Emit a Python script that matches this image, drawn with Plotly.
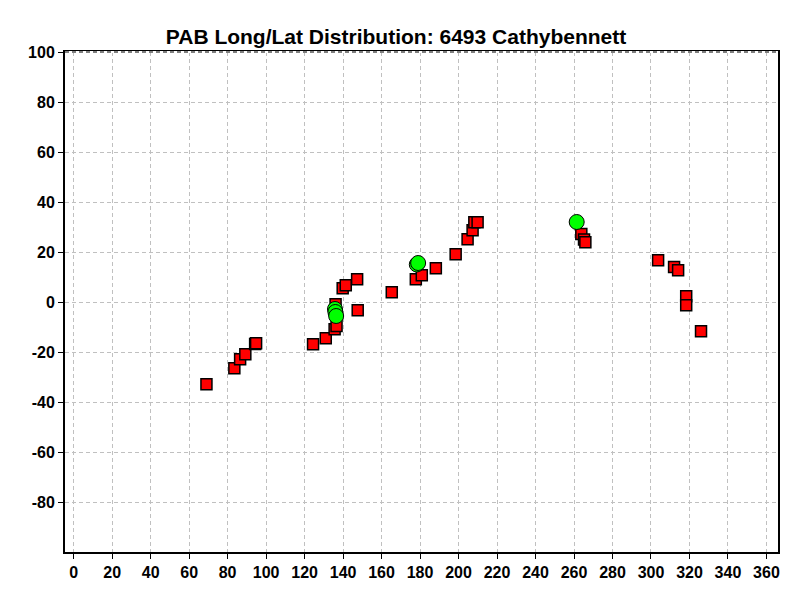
import plotly.graph_objects as go

title = "PAB Long/Lat Distribution: 6493 Cathybennett"

red_lon = [69.0, 83.5, 86.5, 89.2, 94.3, 94.8, 124.4, 131.0, 135.6, 136.6, 136.1, 147.6,
           139.8, 141.4, 147.3, 165.3, 177.8, 180.9, 188.2, 198.5, 204.7, 207.3, 208.2, 209.9,
           263.8, 265.2, 265.9, 303.7, 312.0, 314.1, 318.3, 318.3, 326.0]
red_lat = [-32.9, -26.5, -22.9, -20.9, -16.8, -16.5, -16.9, -14.5, -10.9, -9.6, -0.9, -3.3,
           5.5, 6.7, 9.1, 3.9, 9.1, 10.7, 13.5, 19.1, 25.1, 28.7, 31.9, 31.9,
           27.2, 25.0, 23.9, 16.7, 14.0, 12.7, 2.3, -1.3, -11.7]

green_lon = [135.8, 136.0, 136.4, 178.3, 179.0, 261.4]
green_lat = [-2.8, -4.0, -5.6, 15.0, 15.6, 32.0]

x_ticks = list(range(0, 361, 20))
y_ticks = list(range(-80, 101, 20))

font_fam = "Liberation Sans, Arial, sans-serif"

fig = go.Figure()
fig.add_trace(go.Scatter(
    x=red_lon, y=red_lat, mode="markers",
    marker=dict(symbol="square", size=11, color="#ff0000",
                line=dict(color="black", width=1.5)),
    showlegend=False))
fig.add_trace(go.Scatter(
    x=green_lon, y=green_lat, mode="markers",
    marker=dict(symbol="circle", size=15, color="#00ff00",
                line=dict(color="black", width=1)),
    showlegend=False))

fig.update_layout(
    width=800, height=600,
    margin=dict(l=57, r=30, t=44, b=56),
    paper_bgcolor="white", plot_bgcolor="white",
    title=dict(text="<b>" + title + "</b>", x=0.485, xanchor="center", y=0.953, yanchor="middle",
               font=dict(family=font_fam, size=21, color="black")),
    xaxis=dict(range=[-4.5, 366], tickvals=x_ticks, ticktext=[str(v) for v in x_ticks],
               showgrid=True, gridcolor="#c0c0c0", griddash="4px,3px", gridwidth=1,
               showline=True, linecolor="black", linewidth=2, mirror=True,
               ticks="outside", ticklen=5, tickcolor="black", zeroline=False,
               tickfont=dict(family=font_fam, size=16, color="black", weight="bold")),
    yaxis=dict(range=[-100, 100], tickvals=y_ticks, ticktext=[str(v) for v in y_ticks],
               showgrid=True, gridcolor="#c0c0c0", griddash="4px,3px", gridwidth=1,
               showline=True, linecolor="black", linewidth=2, mirror=True,
               ticks="outside", ticklen=5, tickcolor="black", zeroline=False,
               tickfont=dict(family=font_fam, size=16, color="black", weight="bold")),
)
fig.add_shape(type="line", xref="paper", yref="paper", x0=0, x1=1, y0=1, y1=1,
              line=dict(color="white", width=2))
fig.add_shape(type="line", xref="paper", yref="paper", x0=0, x1=1, y0=1, y1=1,
              line=dict(color="black", width=1, dash="4px,3px"))

fig.write_html("out.html")
